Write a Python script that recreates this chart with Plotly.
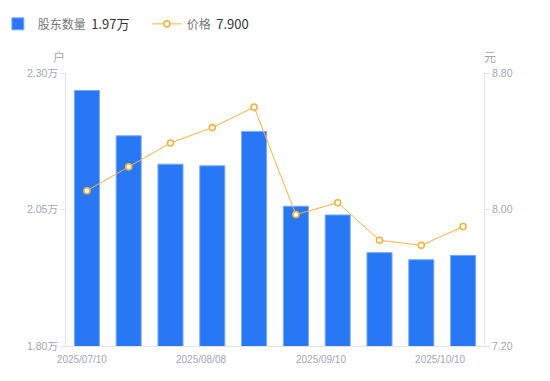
import plotly.graph_objects as go

dates = ["2025/07/10", "2025/07/18", "2025/07/31", "2025/08/08", "2025/08/20",
         "2025/08/29", "2025/09/10", "2025/09/19", "2025/09/30", "2025/10/10"]
holders = [2.268, 2.185, 2.133, 2.130, 2.193, 2.056, 2.040, 1.971, 1.958, 1.966]  # 万户
price = [8.11, 8.25, 8.39, 8.48, 8.60, 7.97, 8.04, 7.82, 7.79, 7.90]
tick_dates = ["2025/07/10", "2025/08/08", "2025/09/10", "2025/10/10"]
tick_pos = [-0.12, 2.73, 5.60, 8.45]
left_ticks = [1.80, 2.05, 2.30]
right_ticks = [7.20, 8.00, 8.80]

idx = list(range(len(dates)))
FONT = "Liberation Sans, Noto Sans CJK SC"
GRAY = "#a3a6b8"

fig = go.Figure()
fig.add_trace(go.Bar(
    x=idx, y=holders, width=0.6, customdata=dates,
    name="股东数量  <span style='color:#333;font-size:13px'>%.2f万</span>" % holders[-1],
    marker=dict(color="#2878f5", line=dict(color="#7aabf8", width=1)),
    hovertemplate="%{customdata}<br>%{y:.2f}万<extra></extra>",
))
fig.add_trace(go.Scatter(
    x=idx, y=price, yaxis="y2", mode="lines+markers", customdata=dates,
    name="价格  <span style='color:#333;font-size:13px'>%.3f</span>" % price[-1],
    line=dict(color="#f9b23c", width=1),
    marker=dict(symbol="circle", size=6, color="white", line=dict(color="#f9b23c", width=1.6)),
    hovertemplate="%{customdata}<br>%{y:.2f}<extra></extra>",
))

fig.update_layout(
    width=550, height=381,
    margin=dict(l=58, r=74, t=65, b=43, autoexpand=False),
    paper_bgcolor="white", plot_bgcolor="white",
    font=dict(family=FONT, size=11, color=GRAY),
    showlegend=True,
    legend=dict(orientation="h", x=-0.163, y=1.18, xanchor="left", yanchor="middle",
                font=dict(size=12, color="#777", family="Noto Sans CJK SC"),
                itemwidth=30, traceorder="normal",
                entrywidthmode="pixels", entrywidth=104),
    bargap=0.4,
    xaxis=dict(range=[-0.5, 9.5], tickvals=tick_pos, ticktext=tick_dates,
               showgrid=False, zeroline=False, showline=True, linecolor="#e3e3e8",
               ticks="", ticklabelstandoff=4, tickfont=dict(size=10, color=GRAY)),
    yaxis=dict(range=[1.80, 2.30], tickvals=left_ticks,
               ticktext=["%.2f万" % v for v in left_ticks],
               showgrid=False, zeroline=False, showline=True, linecolor="#e3e3e8",
               ticks="outside", ticklen=5, tickcolor="#e3e3e8",
               tickfont=dict(size=10.5, color=GRAY)),
    yaxis2=dict(range=[7.20, 8.80], tickvals=right_ticks,
                ticktext=["%.2f" % v for v in right_ticks],
                overlaying="y", side="right",
                showgrid=False, zeroline=False, showline=True, linecolor="#e3e3e8",
                ticks="outside", ticklen=5, tickcolor="#e3e3e8",
                tickfont=dict(size=10.5, color=GRAY)),
    annotations=[
        dict(text="户", xref="paper", yref="paper", x=-0.017, y=1.023, showarrow=False,
             xanchor="center", yanchor="bottom",
             font=dict(size=12, color=GRAY, family="Noto Sans CJK SC")),
        dict(text="元", xref="paper", yref="paper", x=1.015, y=1.023, showarrow=False,
             xanchor="center", yanchor="bottom",
             font=dict(size=12, color=GRAY, family="Noto Sans CJK SC")),
    ],
)

fig.write_html("out.html")
